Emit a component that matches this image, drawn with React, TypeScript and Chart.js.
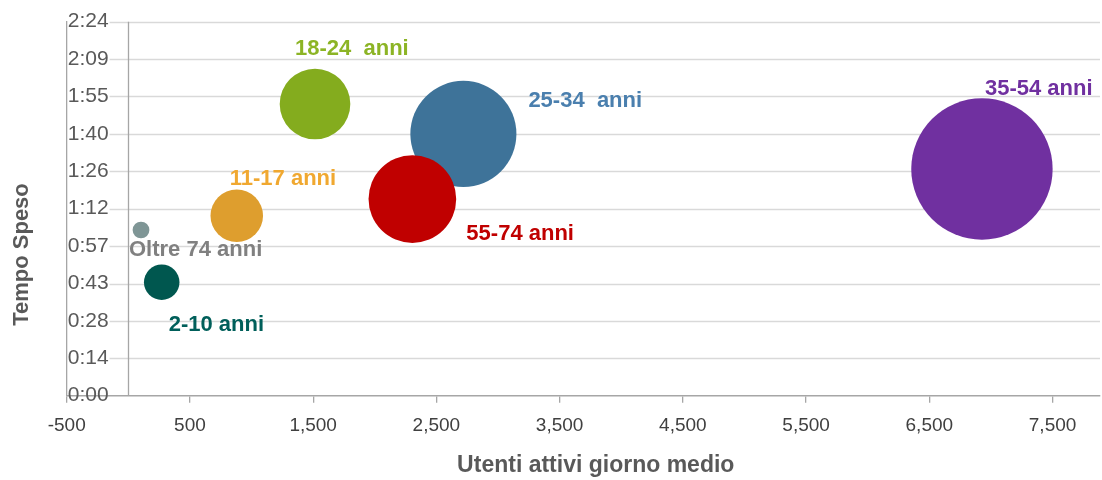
import React, { useEffect, useRef } from "react";
import { Chart, registerables } from "chart.js";

Chart.register(...registerables);

// ---- data ----
const categories = [
  "2-10 anni",
  "11-17 anni",
  "18-24  anni",
  "25-34  anni",
  "35-54 anni",
  "55-74 anni",
  "Oltre 74 anni",
];
const activeUsers = [271, 880, 1515, 2719, 6927, 2305, 103];
const minutesSpent = [43.7, 69.3, 112.3, 100.8, 87.3, 75.7, 63.8];
const bubbleSizes = [630, 1380, 2490, 5620, 9990, 3840, 140];

const xTickValues = [-500, 500, 1500, 2500, 3500, 4500, 5500, 6500, 7500];
const yTickValues = [0, 14.4, 28.8, 43.2, 57.6, 72, 86.4, 100.8, 115.2, 129.6, 144];
const yTickLabels = ["0:00", "0:14", "0:28", "0:43", "0:57", "1:12", "1:26", "1:40", "1:55", "2:09", "2:24"];

// ---- styles ----
const bubbleColors = ["#00574f", "#de9e2e", "#84ac1e", "#3e7399", "#7030a0", "#c00000", "#7f9696"];
const labelColors = ["#005f5a", "#f0a830", "#8cb425", "#4a7fae", "#7030a0", "#c00000", "#808080"];
// label offset from bubble centre in px (left edge, vertical centre)
const labelOffsets: [number, number][] = [
  [7, 43],
  [-7, -37],
  [-20, -55.5],
  [65, -33],
  [3, -80],
  [54, 34.5],
  [-12, 20],
];
const MAX_RADIUS = 70.7;
const FONT = "'Liberation Sans', Arial, sans-serif";
const AXIS_GRAY = "#a6a6a6";
const GRID_GRAY = "#d9d9d9";
const TEXT_GRAY = "#595959";

function zeroPadding(scale: any) {
  scale.paddingLeft = 0;
  scale.paddingRight = 0;
  scale.paddingTop = 0;
  scale.paddingBottom = 0;
}

export default function App() {
  const canvasRef = useRef<HTMLCanvasElement | null>(null);

  useEffect(() => {
    if (!canvasRef.current) return;
    const maxSize = Math.max(...bubbleSizes);

    const gridPlugin = {
      id: "customGrid",
      beforeDatasetsDraw(chart: any) {
        const { ctx, chartArea, scales } = chart;
        const y = scales.y;
        const x = scales.x;
        ctx.save();
        ctx.font = `21px ${FONT}`;
        const widest = Math.max(...yTickLabels.map((t) => ctx.measureText(t).width));
        const startX = chartArea.left + widest + 2;
        ctx.strokeStyle = GRID_GRAY;
        ctx.lineWidth = 1.5;
        yTickValues.forEach((v) => {
          if (v === 0) return;
          const py = Math.round(y.getPixelForValue(v)) + 0.5;
          ctx.beginPath();
          ctx.moveTo(startX, py);
          ctx.lineTo(chartArea.right, py);
          ctx.stroke();
        });
        // vertical axis crossing at x = 0
        const px = Math.round(x.getPixelForValue(0)) + 0.5;
        ctx.strokeStyle = AXIS_GRAY;
        ctx.lineWidth = 1.3;
        ctx.beginPath();
        ctx.moveTo(px, chartArea.top);
        ctx.lineTo(px, chartArea.bottom);
        ctx.stroke();
        ctx.restore();
      },
    };

    const labelPlugin = {
      id: "bubbleLabels",
      afterDatasetsDraw(chart: any) {
        const { ctx } = chart;
        const meta = chart.getDatasetMeta(0);
        ctx.save();
        ctx.font = `bold 22px ${FONT}`;
        ctx.textAlign = "left";
        ctx.textBaseline = "middle";
        meta.data.forEach((el: any, i: number) => {
          const [dx, dy] = labelOffsets[i];
          ctx.fillStyle = labelColors[i];
          ctx.fillText(categories[i], el.x + dx, el.y + dy);
        });
        ctx.restore();
      },
    };

    const titlePlugin = {
      id: "axisTitles",
      afterDraw(chart: any) {
        const { ctx, chartArea } = chart;
        ctx.save();
        ctx.fillStyle = TEXT_GRAY;
        ctx.textAlign = "center";
        ctx.textBaseline = "middle";
        ctx.font = `bold 22px ${FONT}`;
        ctx.translate(22, chartArea.top + (chartArea.bottom - chartArea.top) * 0.6225);
        ctx.rotate(-Math.PI / 2);
        ctx.fillText("Tempo Speso", 0, 0);
        ctx.restore();
        ctx.save();
        ctx.fillStyle = TEXT_GRAY;
        ctx.textAlign = "center";
        ctx.textBaseline = "middle";
        ctx.font = `bold 23px ${FONT}`;
        ctx.fillText(
          "Utenti attivi giorno medio",
          chartArea.left + (chartArea.right - chartArea.left) * 0.512,
          chart.height - 14
        );
        ctx.restore();
      },
    };

    const chart = new Chart(canvasRef.current, {
      type: "bubble",
      data: {
        datasets: [
          {
            label: "Tempo Speso",
            data: categories.map((_, i) => ({
              x: activeUsers[i],
              y: minutesSpent[i],
              r: MAX_RADIUS * Math.sqrt(bubbleSizes[i] / maxSize),
            })),
            backgroundColor: bubbleColors,
            borderWidth: 0,
            hoverRadius: 0,
            clip: false,
          },
        ],
      },
      options: {
        responsive: false,
        animation: false,
        events: [],
        layout: { autoPadding: false, padding: { top: 21.7, right: 2, left: 0, bottom: 0 } },
        plugins: {
          legend: { display: false },
          tooltip: { enabled: false },
          title: { display: false },
        },
        scales: {
          x: {
            type: "linear",
            min: -500,
            max: 7885,
            bounds: "data",
            afterBuildTicks(scale: any) {
              scale.ticks = xTickValues.map((v) => ({ value: v }));
            },
            afterFit(scale: any) {
              scale.height = 84.3;
              zeroPadding(scale);
            },
            grid: {
              display: true,
              drawOnChartArea: false,
              drawTicks: true,
              tickLength: 7,
              color: AXIS_GRAY,
              lineWidth: 1.3,
            },
            border: { display: true, color: AXIS_GRAY, width: 1.5 },
            ticks: {
              autoSkip: false,
              maxRotation: 0,
              padding: 12,
              color: "#404040",
              font: { family: FONT, size: 19 },
              callback: (v: any) => Number(v).toLocaleString("en-US"),
            },
          },
          y: {
            type: "linear",
            min: 0,
            max: 144,
            bounds: "data",
            afterBuildTicks(scale: any) {
              scale.ticks = yTickValues.map((v) => ({ value: v }));
            },
            afterFit(scale: any) {
              scale.width = 66.7;
              zeroPadding(scale);
            },
            grid: { display: false },
            border: { display: true, color: AXIS_GRAY, width: 1.3 },
            ticks: {
              mirror: true,
              autoSkip: false,
              padding: 1,
              color: TEXT_GRAY,
              font: { family: FONT, size: 21 },
              callback: (v: any) => {
                const idx = yTickValues.findIndex((t) => Math.abs(t - Number(v)) < 1e-6);
                return idx >= 0 ? yTickLabels[idx] : "";
              },
            },
          },
        },
      },
      plugins: [gridPlugin, labelPlugin, titlePlugin],
    });

    return () => chart.destroy();
  }, []);

  return (
    <div style={{ position: "absolute", left: 0, top: 0, width: 1102, height: 480, background: "#fff" }}>
      <canvas ref={canvasRef} width={1102} height={480} style={{ width: 1102, height: 480 }} />
    </div>
  );
}
